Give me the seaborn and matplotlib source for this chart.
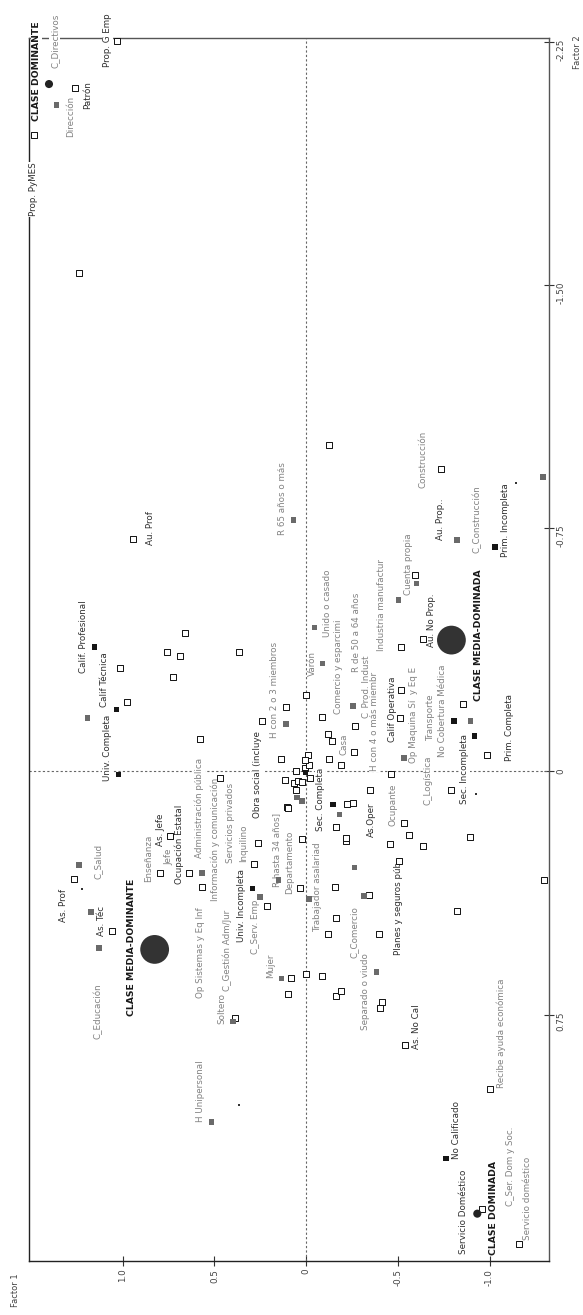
import matplotlib
matplotlib.use("Agg")
import matplotlib.pyplot as plt
import pandas as pd
import seaborn as sns

sns.set_theme(style="white")
plt.rcParams['font.family'] = ['DejaVu Sans']

# Modalidades (cuadrados blancos)
open_f1 = [1.483, 1.029, 1.260, 1.236, 0.942, -0.123, -0.735, -0.592, -0.519, -0.637,
           -0.001, -0.088, -0.141, -0.119, -0.124, -0.192, -0.264, -0.261, -0.515, -0.510,
           -0.855, -0.988, -0.792, -0.465, -0.346, 1.016, 0.976, 0.662, 0.759, 0.688,
           0.364, 0.728, 0.581, 0.469, 0.238, 0.111, 0.135, 0.115, 0.053, 0.067,
           0.045, 0.021, 0.005, -0.015, -0.010, 0.004, -0.023, 0.053, 0.103, 0.023,
           -0.224, -0.255, -0.161, -0.218, -0.218, -0.532, -0.559, -0.459, -0.637, -0.506,
           -0.895, -0.824, -1.297, -0.342, -0.395, -0.161, -0.119, -0.155, 0.033, -0.088,
           -0.001, -0.164, -0.191, -0.401, -0.412, -0.538, -1.004, -0.956, -1.162, 1.266,
           1.057, 0.799, 0.745, 0.637, 0.567, 0.287, 0.262, 0.214, 0.100, 0.080,
           0.100, 0.390]
open_f2 = [-1.964, -2.254, -2.108, -1.537, -0.718, -1.006, -0.934, -0.606, -0.385, -0.407,
           -0.235, -0.169, -0.094, -0.114, -0.039, -0.019, -0.140, -0.060, -0.250, -0.166,
           -0.207, -0.052, 0.056, 0.009, 0.056, -0.319, -0.214, -0.426, -0.368, -0.356,
           -0.368, -0.292, -0.101, 0.019, -0.155, -0.198, -0.037, 0.025, -0.001, 0.035,
           0.030, 0.032, -0.012, -0.019, -0.052, -0.034, 0.019, 0.056, 0.109, 0.210,
           0.099, 0.097, 0.171, 0.216, 0.204, 0.160, 0.197, 0.223, 0.231, 0.277,
           0.203, 0.431, 0.336, 0.380, 0.503, 0.452, 0.503, 0.358, 0.361, 0.630,
           0.625, 0.694, 0.677, 0.731, 0.710, 0.843, 0.978, 1.349, 1.457, 0.331,
           0.491, 0.313, 0.198, 0.313, 0.356, 0.287, 0.220, 0.414, 0.112, 0.636,
           0.688, 0.762]

# Modalidades (cuadrados grises)
gray_f1 = [1.361, 0.070, -1.292, -0.822, -0.601, -0.503, -0.046, -0.088, -0.255, -0.532,
           -0.897, 1.191, 0.111, 0.050, 0.023, -0.183, -0.264, -0.315, -0.383, -0.016,
           1.239, 1.174, 1.128, 0.567, 0.252, 0.151, 0.135, 0.398, 0.516]
gray_f2 = [-2.056, -0.775, -0.908, -0.713, -0.579, -0.529, -0.444, -0.333, -0.202, -0.042,
           -0.155, -0.164, -0.147, 0.081, 0.092, 0.133, 0.297, 0.385, 0.619, 0.393,
           0.289, 0.434, 0.544, 0.313, 0.387, 0.335, 0.639, 0.771, 1.081]

# Modalidades (cuadrados negros)
black_f1 = [-1.029, -0.806, -0.919, 1.154, 1.033, 1.022, 0.003, -0.146, -0.761, 0.293]
black_f2 = [-0.692, -0.155, -0.109, -0.384, -0.191, 0.009, 0.004, 0.102, 1.194, 0.361]

# Modalidades casi sin peso (puntos)
dot_f1 = [-1.146, -0.928, 1.221, 0.368]
dot_f2 = [-0.891, 0.071, 0.364, 1.028]

# Clases (centroides)
clase_media_f1 = [0.826, -0.792]
clase_media_f2 = [0.549, -0.405]
clase_ext_f1 = [1.402, -0.933]
clase_ext_f2 = [-2.120, 1.364]

# Etiquetas
lab_text = ["CLASE DOMINANTE", "C_Directivos", "Dirección", "Patrón", "Prop. G Emp",
            "Prop. PyMES", "Au. Prof", "R 65 años o más", "Construcción", "Au. Prop..",
            "C_Construcción", "Prim. Incompleta", "Calif. Profesional", "Calif Técnica",
            "Univ. Completa", "Cuenta propia", "Industria manufactur", "Unido o casado",
            "Varón", "Comercio y esparcimi", "R de 50 a 64 años", "C_Prod. Indust",
            "H con 4 o más miembr", "Casa", "Calif Operativa", "Op Maquina Sí  y Eq E",
            "Transporte", "No Cobertura Médica", "Au. No Prop.", "CLASE MEDIA-DOMINADA",
            "Prim. Completa", "C_Logística", "Sec. Incompleta", "Ocupante", "As.Oper",
            "Sec. Completa", "Trabajador asalariad", "Departamento", "R hasta 34 años]",
            "Obra social (incluye", "H con 2 o 3 miembros", "Inquilino", "Servicios privados",
            "Información y comunicación", "Administración pública", "Ocupación Estatal",
            "As. Jefe", "Jefe", "Enseñanza", "As. Prof", "As. Téc", "C_Educación",
            "CLASE MEDIA-DOMINANTE", "Op Sistemas y Eq Inf", "Soltero", "C_Gestión Adm/Jur",
            "Univ. Incompleta", "C_Serv. Emp", "Mujer", "Separado o viudo", "C_Comercio",
            "Planes y seguros púb", "As. No Cal", "Recibe ayuda económica", "H Unipersonal",
            "No Calificado", "Servicio Doméstico", "CLASE DOMINADA", "C_Ser. Dom y Soc.",
            "Servicio doméstico", "C_Salud"]
lab_f1 = [1.468, 1.371, 1.286, 1.191, 1.083, 1.489, 0.850, 0.127, -0.635, -0.731,
          -0.930, -1.086, 1.215, 1.098, 1.083, -0.556, -0.410, -0.116, -0.032, -0.177,
          -0.274, -0.323, -0.373, -0.206, -0.470, -0.586, -0.677, -0.746, -0.686, -0.937,
          -1.110, -0.664, -0.864, -0.472, -0.356, -0.076, -0.064, 0.090, 0.162, 0.267,
          0.172, 0.339, 0.414, 0.496, 0.583, 0.692, 0.793, 0.750, 0.860, 1.322,
          1.114, 1.134, 0.951, 0.577, 0.459, 0.431, 0.354, 0.276, 0.196, -0.326,
          -0.264, -0.502, -0.599, -1.065, 0.577, -0.818, -0.859, -1.021, -1.115, -1.208,
          1.134]
lab_f2 = [-2.160, -2.253, -2.020, -2.086, -2.256, -1.795, -0.750, -0.841, -0.963, -0.778,
          -0.778, -0.775, -0.414, -0.282, -0.074, -0.639, -0.512, -0.519, -0.333, -0.324,
          -0.429, -0.261, -0.154, -0.083, -0.191, -0.174, -0.164, -0.188, -0.466, -0.420,
          -0.136, 0.028, -0.006, 0.102, 0.148, 0.086, 0.356, 0.281, 0.241, 0.009,
          -0.250, 0.222, 0.160, 0.210, 0.114, 0.225, 0.179, 0.262, 0.269, 0.414,
          0.460, 0.741, 0.543, 0.559, 0.731, 0.552, 0.415, 0.478, 0.599, 0.679,
          0.497, 0.423, 0.787, 0.809, 0.985, 1.105, 1.358, 1.346, 1.219, 1.318,
          0.278]
# tono: c = clase, d = oscuro, g = gris
lab_tone = ["c", "g", "g", "d", "d", "d", "d", "g", "g", "d",
            "g", "d", "d", "d", "d", "g", "g", "g", "g", "g",
            "g", "g", "g", "g", "d", "g", "g", "g", "d", "c",
            "d", "g", "d", "g", "d", "d", "g", "g", "g", "d",
            "g", "g", "g", "g", "g", "d", "d", "g", "g", "d",
            "d", "g", "c", "g", "g", "g", "d", "g", "g", "g",
            "g", "d", "d", "g", "g", "d", "d", "c", "g", "g",
            "g"]

f1_ticks = [1.0, 0.5, 0, -0.5, -1.0]
f1_ticklabels = ["1.0", "0.5", "0", "-0.5", "-1.0"]
f2_ticks = [-2.25, -1.50, -0.75, 0, 0.75]
f2_ticklabels = ["-2.25", "-1.50", "-0.75", "0", "0.75"]

fig = plt.figure(figsize=(5.83, 13.15), dpi=100)
ax = fig.add_axes([29 / 583, 1 - 1261 / 1315, 520 / 583, 1223 / 1315])

ax.axhline(0, color="#666666", lw=0.8, ls=(0, (2, 2)), zorder=1)
ax.axvline(0, color="#666666", lw=0.8, ls=(0, (2, 2)), zorder=1)

df_open = pd.DataFrame({"f1": open_f1, "f2": open_f2})
df_gray = pd.DataFrame({"f1": gray_f1, "f2": gray_f2})
df_black = pd.DataFrame({"f1": black_f1, "f2": black_f2})

sns.scatterplot(data=df_open, x="f1", y="f2", marker="s", s=14, color="white",
                edgecolor="#111111", linewidth=0.7, ax=ax, zorder=5)
sns.scatterplot(data=df_gray, x="f1", y="f2", marker="s", s=16, color="#6a6a6a",
                edgecolor="none", linewidth=0, ax=ax, zorder=5)
sns.scatterplot(data=df_black, x="f1", y="f2", marker="s", s=16, color="#151515",
                edgecolor="none", linewidth=0, ax=ax, zorder=5)
sns.scatterplot(x=dot_f1, y=dot_f2, marker="s", s=2, color="#333333",
                edgecolor="none", linewidth=0, ax=ax, zorder=5)
sns.scatterplot(x=clase_media_f1, y=clase_media_f2, marker="o", s=430, color="#333333",
                edgecolor="none", ax=ax, zorder=6)
sns.scatterplot(x=clase_ext_f1, y=clase_ext_f2, marker="o", s=34, color="#222222",
                edgecolor="none", ax=ax, zorder=6)

tones = {"c": ("#1a1a1a", "bold", 6.7), "d": ("#2e2e2e", "normal", 6.3),
         "g": ("#828282", "normal", 6.3)}
for t, x, y, tone in zip(lab_text, lab_f1, lab_f2, lab_tone):
    col, w, fs = tones[tone]
    ax.text(x, y, t, rotation=90, ha="center", va="center", fontsize=fs, color=col,
            fontweight=w, zorder=4,
            bbox=dict(boxstyle="square,pad=0.1", fc="white", ec="none"))

ax.set_xlim(1.511, -1.324)
ax.set_ylim(1.51, -2.262)

ax.set_xticks(f1_ticks)
ax.set_xticklabels(f1_ticklabels)
ax.set_yticks(f2_ticks)
ax.set_yticklabels(f2_ticklabels)
ax.yaxis.tick_right()
ax.tick_params(axis="x", bottom=True, direction="inout", length=7, width=0.8,
               color="#333333", labelsize=6.3, labelcolor="#444444", labelrotation=90, pad=2)
ax.tick_params(axis="y", right=True, left=False, direction="inout", length=7, width=0.8,
               color="#333333", labelsize=6.3, labelcolor="#444444", labelrotation=90, pad=2)
ax.set_xlabel("")
ax.set_ylabel("")

for side in ["left", "bottom"]:
    ax.spines[side].set_color("#222222")
    ax.spines[side].set_linewidth(1.0)
for side in ["top", "right"]:
    ax.spines[side].set_color("#555555")
    ax.spines[side].set_linewidth(1.0)
for sp in ax.spines.values():
    sp.set_zorder(2)

fig.text(15 / 583, 1 - 1290 / 1315, "Factor 1", rotation=90, ha="center", va="center",
         fontsize=6, color="#444444")
fig.text(577 / 583, 1 - 52 / 1315, "Factor 2", rotation=90, ha="center", va="center",
         fontsize=6, color="#444444")

fig.savefig("out.png", dpi=100)
